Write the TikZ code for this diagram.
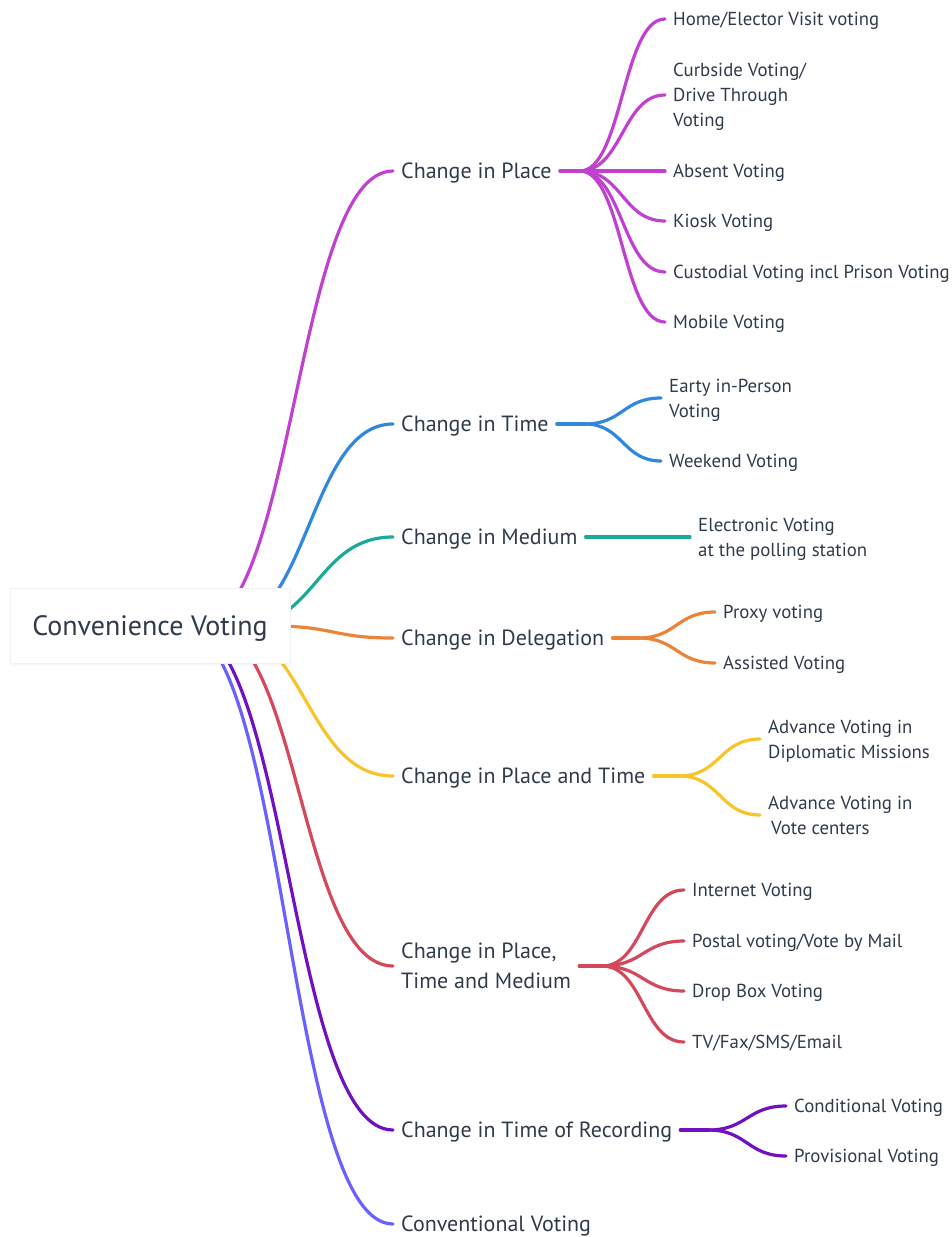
\documentclass[tikz,border=0pt]{standalone}
\usepackage{fontspec}
\setmainfont{PT Sans}
\usepackage{xcolor}
\usepackage{tikz}
\usetikzlibrary{positioning, calc, backgrounds, shadows}
\definecolor{inkText}{HTML}{303B4A}
\definecolor{cPlace}{HTML}{C040D0}
\definecolor{cTime}{HTML}{3088DE}
\definecolor{cMedium}{HTML}{1AAA96}
\definecolor{cDeleg}{HTML}{EA843A}
\definecolor{cPlTi}{HTML}{F8C42C}
\definecolor{cPTM}{HTML}{D4485C}
\definecolor{cRecrd}{HTML}{7010C0}
\definecolor{cConv}{HTML}{6860FF}

\begin{document}
\begin{tikzpicture}[
        x=1pt, y=-1pt,
        every node/.style={text=inkText},
        rootbox/.style={rectangle, fill=white, draw=black!5, line width=0.6pt,
                        minimum width=280pt, minimum height=75pt,
                        font=\fontsize{28}{32}\selectfont, text height=19.6pt, text depth=0pt,
                        drop shadow={shadow xshift=0pt, shadow yshift=-2pt, opacity=0.05}},
        topic/.style={anchor=west, inner xsep=8pt, inner ysep=0pt, align=left,
                      font=\fontsize{22}{30}\selectfont, text height=15.4pt, text depth=0pt},
        leaf/.style={anchor=west, inner xsep=8pt, inner ysep=0pt, align=left,
                     font=\fontsize{18.8}{25}\selectfont, text height=13.2pt, text depth=0pt},
        lines2/.style={text height=38.2pt},
        lines3/.style={text height=63.2pt},
        twoT/.style={text height=45.4pt},
        wire/.style={line width=3.2pt, line cap=round},
        branch/.style={to path={.. controls ($(\tikztostart)!0.5!(\tikztostart -| \tikztotarget)$)
                       and ($(\tikztotarget)!0.5!(\tikztotarget -| \tikztostart)$) .. (\tikztotarget)}},
      ]
        \useasboundingbox (0,0) rectangle (952,1237);

        % root and main topics
        \node[rootbox] (root) at (150,626) {Convenience Voting};

        \node[topic] (place)  at (393,171)  {Change in Place};
        \node[topic] (time)   at (393,424)  {Change in Time};
        \node[topic] (medium) at (393,537)  {Change in Medium};
        \node[topic] (deleg)  at (393,638)  {Change in Delegation};
        \node[topic] (plti)   at (393,776)  {Change in Place and Time};
        \node[topic, twoT] (ptm) at (393,966) {Change in Place,\\Time and Medium};
        \node[topic] (recrd)  at (393,1130) {Change in Time of Recording};
        \node[topic] (conv)   at (393,1224) {Conventional Voting};

        % forks
        \coordinate[right=20pt of place] (placeF);
        \coordinate[right=28pt of time] (timeF);
        \coordinate[right=26pt of deleg] (delegF);
        \coordinate[right=26pt of plti] (pltiF);
        \coordinate[right=23pt of ptm] (ptmF);
        \coordinate[right=28pt of recrd] (recrdF);

        % leaves
        \node[leaf] (home)   at (665,19)  {Home/Elector Visit voting};
        \node[leaf, lines3] (curb) at (665,95) {Curbside Voting/\\Drive Through\\Voting};
        \node[leaf] (absent) at (665,171) {Absent Voting};
        \node[leaf] (kiosk)  at (665,221) {Kiosk Voting};
        \node[leaf] (custod) at (665,272) {Custodial Voting incl Prison Voting};
        \node[leaf] (mobile) at (665,322) {Mobile Voting};

        \node[leaf, lines2] (early) at (661,398) {Earty in-Person\\Voting};
        \node[leaf] (weekend) at (661,461) {Weekend Voting};

        \node[leaf, lines2] (elec) at (690,537) {Electronic Voting\\at the polling station};

        \node[leaf] (proxy)  at (715,612) {Proxy voting};
        \node[leaf] (assist) at (715,663) {Assisted Voting};

        \node[leaf, lines2] (advDip) at (760,739) {Advance Voting in\\Diplomatic Missions};
        \node[leaf, lines2] (advCen) at (760,815) {Advance Voting in\\\hspace{3pt}Vote centers};

        \node[leaf] (inet)   at (684,890)  {Internet Voting};
        \node[leaf] (postal) at (684,941)  {Postal voting/Vote by Mail};
        \node[leaf] (dropb)  at (684,991)  {Drop Box Voting};
        \node[leaf] (tvfax)  at (684,1042) {TV/Fax/SMS/Email};

        \node[leaf] (cond) at (786,1106) {Conditional Voting};
        \node[leaf] (prov) at (786,1156) {Provisional Voting};

        % connectors (root ones pass under the root box)
        \begin{scope}[on background layer]
          \draw[cPlace, wire]  ([xshift=47pt]root.center)  to[branch] (place.west);
          \draw[cTime, wire]   ([xshift=75pt]root.center)  to[branch] (time.west);
          \draw[cMedium, wire] ([xshift=90pt]root.center)  to[branch] (medium.west);
          \draw[cDeleg, wire]  ([xshift=123pt]root.center) to[branch] (deleg.west);
          \draw[cPlTi, wire]   ([xshift=69pt]root.center)  to[branch] (plti.west);
          \draw[cPTM, wire]    ([xshift=57pt]root.center)  to[branch] (ptm.west);
          \draw[cRecrd, wire]  ([xshift=35pt]root.center)  to[branch] (recrd.west);
          \draw[cConv, wire]   ([xshift=30pt]root.center)  to[branch] (conv.west);
        \end{scope}

        \begin{scope}[wire]
          \draw[cPlace] (place.east) -- (placeF);
          \foreach \leafname in {home, curb, absent, kiosk, custod, mobile}
            \draw[cPlace] (placeF) to[branch] (\leafname.west);

          \draw[cTime] (time.east) -- (timeF);
          \foreach \leafname in {early, weekend}
            \draw[cTime] (timeF) to[branch] (\leafname.west);

          \draw[cMedium] (medium.east) -- (elec.west);

          \draw[cDeleg] (deleg.east) -- (delegF);
          \foreach \leafname in {proxy, assist}
            \draw[cDeleg] (delegF) to[branch] (\leafname.west);

          \draw[cPlTi] (plti.east) -- (pltiF);
          \foreach \leafname in {advDip, advCen}
            \draw[cPlTi] (pltiF) to[branch] (\leafname.west);

          \draw[cPTM] (ptm.east) -- (ptmF);
          \foreach \leafname in {inet, postal, dropb, tvfax}
            \draw[cPTM] (ptmF) to[branch] (\leafname.west);

          \draw[cRecrd] (recrd.east) -- (recrdF);
          \foreach \leafname in {cond, prov}
            \draw[cRecrd] (recrdF) to[branch] (\leafname.west);
        \end{scope}
      \end{tikzpicture}
\end{document}
